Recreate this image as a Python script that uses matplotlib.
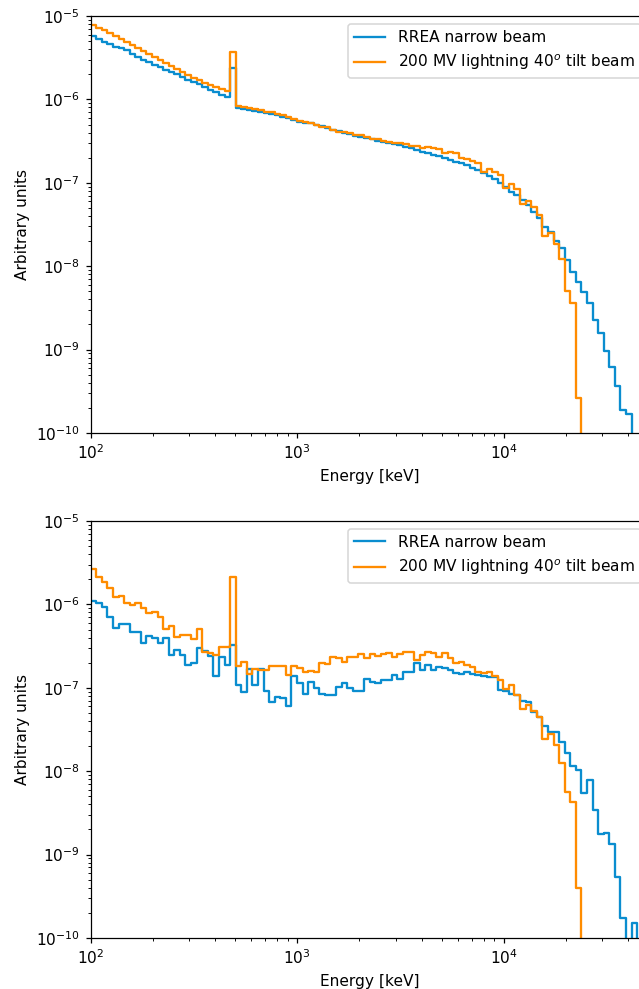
import numpy as np
import matplotlib
matplotlib.use("Agg")
import matplotlib.pyplot as plt

# 100 logarithmic energy bins from 100 keV to 50 MeV
bin_lo_kev = 100.0
bin_hi_kev = 5.0e4
n_bins = 100

labels = ["RREA narrow beam", "200 MV lightning 40$^o$ tilt beam"]
colors = ["#0a8dcf", "#ff8c00"]

# ---- top panel ----
rrea_top = [
    5.76e-6, 5.30e-6, 4.94e-6, 4.62e-6, 4.31e-6, 4.08e-6, 3.86e-6, 3.55e-6, 3.27e-6, 3.01e-6,
    2.81e-6, 2.62e-6, 2.45e-6, 2.28e-6, 2.13e-6, 1.99e-6, 1.86e-6, 1.73e-6, 1.62e-6, 1.51e-6,
    1.41e-6, 1.31e-6, 1.23e-6, 1.145e-6, 1.07e-6, 2.36e-6, 7.95e-7, 7.67e-7, 7.46e-7, 7.26e-7,
    7.06e-7, 6.87e-7, 6.68e-7, 6.50e-7, 6.20e-7, 5.93e-7, 5.66e-7, 5.40e-7, 5.28e-7, 5.17e-7,
    5.00e-7, 4.80e-7, 4.54e-7, 4.30e-7, 4.18e-7, 4.01e-7, 3.85e-7, 3.69e-7, 3.54e-7, 3.45e-7,
    3.31e-7, 3.17e-7, 3.08e-7, 3.00e-7, 2.96e-7, 2.84e-7, 2.69e-7, 2.58e-7, 2.47e-7, 2.37e-7,
    2.28e-7, 2.15e-7, 2.07e-7, 1.96e-7, 1.88e-7, 1.80e-7, 1.74e-7, 1.63e-7, 1.49e-7, 1.42e-7,
    1.30e-7, 1.21e-7, 1.10e-7, 9.86e-8, 8.98e-8, 7.82e-8, 7.14e-8, 6.22e-8, 5.42e-8, 4.50e-8,
    3.75e-8, 2.98e-8, 2.59e-8, 2.02e-8, 1.64e-8, 1.19e-8, 8.59e-9, 6.52e-9, 4.94e-9, 3.59e-9,
    2.26e-9, 1.59e-9, 9.70e-10, 6.13e-10, 3.69e-10, 1.89e-10, 1.69e-10, 0.0, 0.0, 0.0,
]
lightning_top = [
    7.80e-6, 7.28e-6, 6.79e-6, 6.26e-6, 5.76e-6, 5.30e-6, 4.88e-6, 4.49e-6, 4.13e-6, 3.80e-6,
    3.50e-6, 3.22e-6, 2.97e-6, 2.73e-6, 2.52e-6, 2.31e-6, 2.13e-6, 1.96e-6, 1.81e-6, 1.69e-6,
    1.57e-6, 1.49e-6, 1.41e-6, 1.33e-6, 1.26e-6, 3.73e-6, 8.40e-7, 8.11e-7, 7.89e-7, 7.67e-7,
    7.46e-7, 7.16e-7, 6.97e-7, 6.77e-7, 6.50e-7, 6.20e-7, 5.82e-7, 5.51e-7, 5.40e-7, 5.26e-7,
    4.93e-7, 4.71e-7, 4.71e-7, 4.30e-7, 4.10e-7, 4.10e-7, 3.92e-7, 3.74e-7, 3.74e-7, 3.57e-7,
    3.32e-7, 3.32e-7, 3.17e-7, 3.06e-7, 3.00e-7, 2.98e-7, 2.89e-7, 2.76e-7, 2.76e-7, 2.59e-7,
    2.71e-7, 2.59e-7, 2.52e-7, 2.26e-7, 2.36e-7, 2.30e-7, 1.97e-7, 1.91e-7, 1.84e-7, 1.73e-7,
    1.34e-7, 1.46e-7, 1.36e-7, 1.24e-7, 8.73e-8, 9.59e-8, 8.36e-8, 5.52e-8, 6.05e-8, 5.08e-8,
    4.08e-8, 2.30e-8, 2.52e-8, 1.85e-8, 1.23e-8, 5.04e-9, 3.59e-9, 2.65e-10, 0.0, 0.0,
    0.0, 0.0, 0.0, 0.0, 0.0, 0.0, 0.0, 0.0, 0.0, 0.0,
]

# ---- bottom panel ----
rrea_bottom = [
    1.10e-6, 1.05e-6, 9.23e-7, 7.12e-7, 5.17e-7, 5.77e-7, 5.77e-7, 4.71e-7, 4.63e-7, 3.42e-7,
    4.18e-7, 3.92e-7, 3.42e-7, 3.92e-7, 2.47e-7, 2.84e-7, 2.47e-7, 1.88e-7, 1.97e-7, 2.98e-7,
    2.76e-7, 2.43e-7, 1.39e-7, 2.36e-7, 1.88e-7, 3.26e-7, 1.08e-7, 8.83e-8, 1.68e-7, 1.08e-7,
    1.67e-7, 9.15e-8, 6.81e-8, 7.82e-8, 7.55e-8, 6.05e-8, 1.39e-7, 1.13e-7, 8.36e-8, 1.18e-7,
    9.86e-8, 8.36e-8, 8.20e-8, 8.20e-8, 1.03e-7, 1.15e-7, 9.86e-8, 9.23e-8, 9.23e-8, 1.28e-7,
    1.18e-7, 1.13e-7, 1.24e-7, 1.24e-7, 1.42e-7, 1.26e-7, 1.56e-7, 1.56e-7, 1.97e-7, 1.63e-7,
    1.88e-7, 1.63e-7, 1.79e-7, 1.71e-7, 1.63e-7, 1.49e-7, 1.46e-7, 1.56e-7, 1.46e-7, 1.42e-7,
    1.39e-7, 1.34e-7, 1.33e-7, 9.28e-8, 9.03e-8, 8.36e-8, 8.20e-8, 6.94e-8, 6.70e-8, 5.17e-8,
    4.43e-8, 3.51e-8, 2.98e-8, 2.93e-8, 2.26e-8, 1.64e-8, 1.16e-8, 1.03e-8, 5.43e-9, 7.84e-9,
    3.43e-9, 1.75e-9, 1.83e-9, 1.34e-9, 5.34e-10, 1.72e-10, 0.0, 1.50e-10, 0.0, 0.0,
]
lightning_bottom = [
    2.66e-6, 2.15e-6, 1.87e-6, 1.56e-6, 1.24e-6, 1.26e-6, 1.05e-6, 9.83e-7, 1.05e-6, 8.98e-7,
    7.95e-7, 8.17e-7, 7.12e-7, 5.03e-7, 5.51e-7, 4.03e-7, 4.30e-7, 4.30e-7, 3.82e-7, 5.03e-7,
    2.67e-7, 2.64e-7, 2.47e-7, 3.06e-7, 3.06e-7, 2.11e-6, 1.84e-7, 2.06e-7, 1.46e-7, 1.67e-7,
    1.63e-7, 1.63e-7, 1.83e-7, 1.84e-7, 1.83e-7, 1.42e-7, 1.84e-7, 1.71e-7, 1.56e-7, 1.60e-7,
    1.56e-7, 1.97e-7, 1.93e-7, 2.36e-7, 2.26e-7, 2.06e-7, 2.36e-7, 2.36e-7, 2.54e-7, 2.26e-7,
    2.54e-7, 2.43e-7, 2.54e-7, 2.59e-7, 2.32e-7, 2.54e-7, 2.71e-7, 2.71e-7, 2.15e-7, 2.47e-7,
    2.71e-7, 2.59e-7, 2.36e-7, 2.59e-7, 2.26e-7, 1.97e-7, 2.06e-7, 1.88e-7, 1.79e-7, 1.56e-7,
    1.51e-7, 1.53e-7, 1.39e-7, 1.24e-7, 9.67e-8, 1.08e-7, 8.20e-8, 5.57e-8, 6.22e-8, 5.31e-8,
    4.43e-8, 2.43e-8, 2.77e-8, 2.06e-8, 1.24e-8, 5.58e-9, 4.31e-9, 3.94e-10, 0.0, 0.0,
    0.0, 0.0, 0.0, 0.0, 0.0, 0.0, 0.0, 0.0, 0.0, 0.0,
]

edges = np.logspace(np.log10(bin_lo_kev), np.log10(bin_hi_kev), n_bins + 1)

DPI = 111
fig = plt.figure(figsize=(639 / DPI, 989 / DPI), dpi=DPI)
ax_top = fig.add_axes([0.1419, 0.5622, 0.8727, 0.4216])
ax_bot = fig.add_axes([0.1419, 0.0516, 0.8727, 0.4216])

for ax, series in ((ax_top, (rrea_top, lightning_top)),
                   (ax_bot, (rrea_bottom, lightning_bottom))):
    for vals, lab, col in zip(series, labels, colors):
        v = np.asarray(vals, dtype=float)
        ax.step(edges, np.append(v, v[-1]), where="post", color=col, lw=1.5, label=lab)
    ax.set_xscale("log")
    ax.set_yscale("log")
    ax.set_xlim(bin_lo_kev, bin_hi_kev)
    ax.set_ylim(1e-10, 1e-5)
    ax.set_xlabel("Energy [keV]")
    ax.set_ylabel("Arbitrary units")
    ax.legend(loc="upper right")

fig.savefig("out.png", dpi=DPI)
